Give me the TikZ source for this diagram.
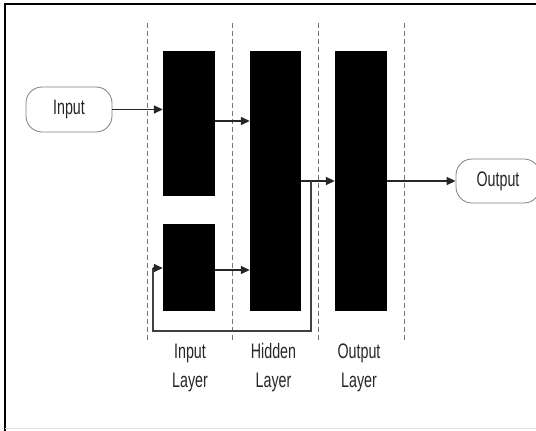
\documentclass[tikz,border=0pt]{standalone}
\usepackage{fontspec}
\setmainfont{Liberation Sans}[FakeStretch=0.68]
\usetikzlibrary{arrows.meta}
\begin{document}
\begin{tikzpicture}[x=1pt,y=-1pt,
  block/.style={draw=none,fill=black,inner sep=0pt,minimum width=52pt},
  term/.style={draw=black!50,line width=0.8pt,rounded corners=16pt,minimum width=86pt,minimum height=45pt,inner sep=0pt,font=\fontsize{21}{25}\selectfont,text=black!85},
  conn/.style={line width=1.6pt,draw=black!85,-{Triangle[length=9pt,width=8pt]}},
  fb/.style={line width=1.4pt,draw=black!75},
  divider/.style={draw=black!55,line width=0.8pt,dash pattern=on 5pt off 3pt},
  lbl/.style={align=center,font=\fontsize{21}{29}\selectfont,text=black!85,inner sep=0pt}]
\useasboundingbox (0,0) rectangle (536,431);
% frame
\draw[line width=1.8pt] (5,431) -- (5,4) -- (536,4);
\draw[black!12,line width=1pt] (5,428) -- (536,428);
% dividers
\foreach \x in {147,232,318,404} \draw[divider] (\x,23) -- (\x,342);
% blocks
\node[block,minimum height=145pt] (in1) at (189,123.5) {};
\node[block,minimum height=87pt] (in2) at (189,267.5) {};
\node[block,minimum width=51pt,minimum height=260pt] (hid) at (275.5,181) {};
\node[block,minimum height=260pt] (out) at (361,181) {};
% terminals
\node[term] (inp) at (69,109.5) {Input};
\node[term,minimum width=84pt,minimum height=44pt] (outp) at (498,181) {Output};
% connectors
\draw[conn] (inp.east) -- (inp.east -| in1.west);
\draw[conn] (in1.east |- 0,121) -- (hid.west |- 0,121);
\draw[conn] (in2.east |- 0,270) -- (hid.west |- 0,270);
\draw[conn] (hid.east) -- (out.west);
\draw[conn] (out.east) -- (outp.west);
\coordinate (fbs) at (311,181);
\coordinate (fbl) at (153,331);
\draw[fb] (fbs) -- (fbs |- fbl) -- (fbl) -- (153,268);
\draw[conn,line width=1.4pt] (153,268) -- (in2.west |- 0,268);
% labels
\node[lbl] (l1) at (190,368) {Input\\Layer};
\node[lbl] (l2) at (273.5,368) {Hidden\\Layer};
\node[lbl] (l3) at (359,368) {Output\\Layer};
\end{tikzpicture}
\end{document}
